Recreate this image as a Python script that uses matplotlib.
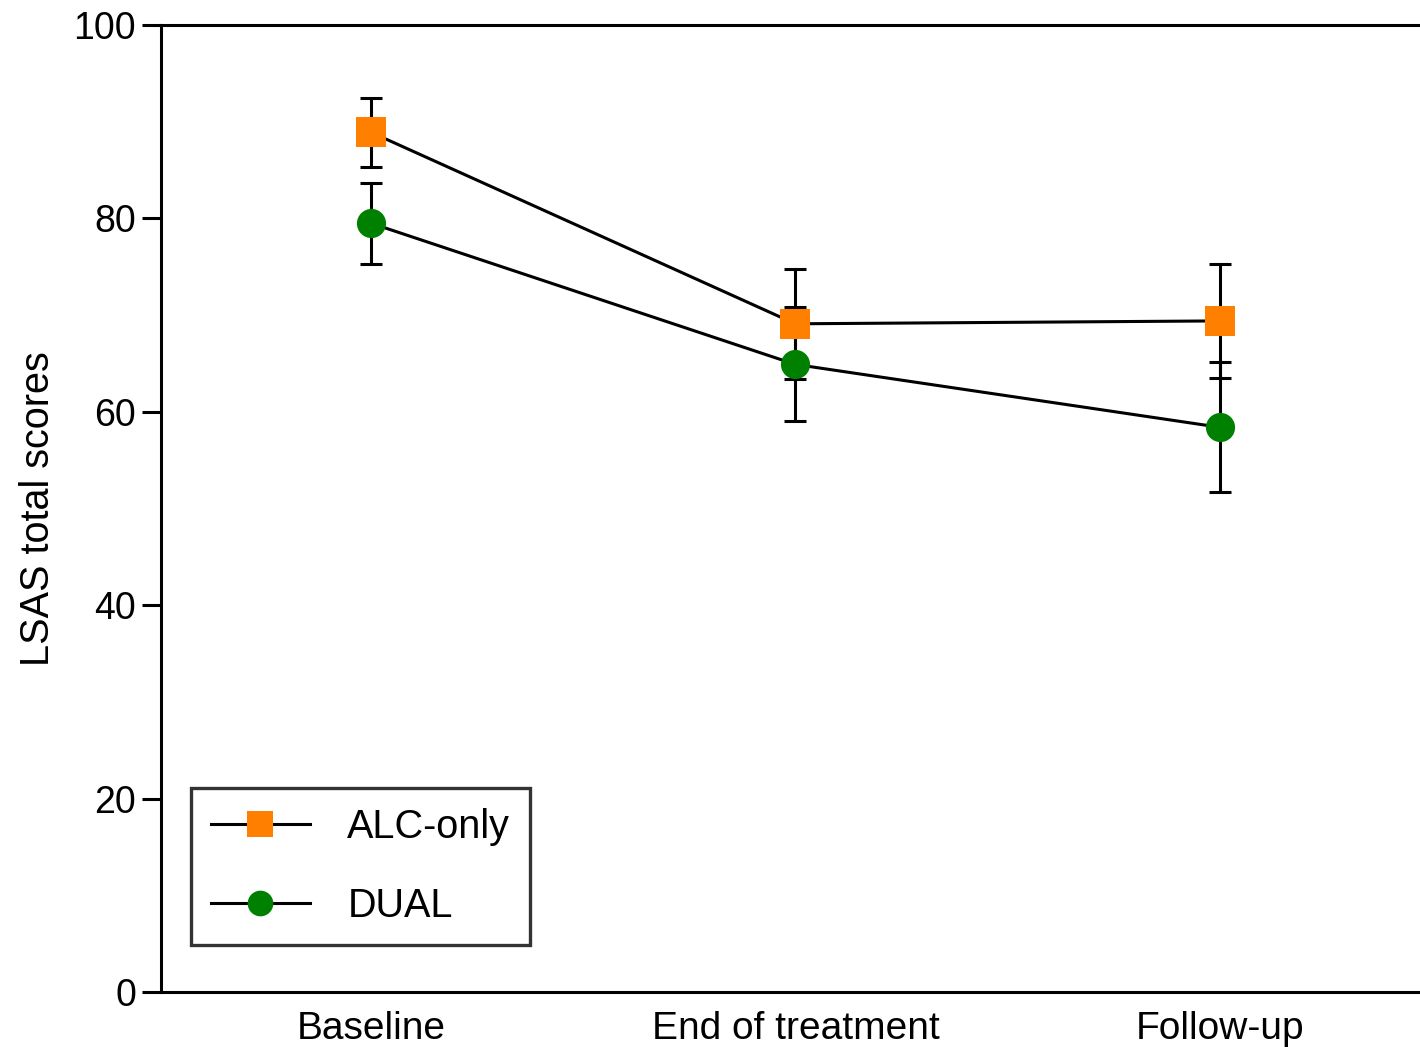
import numpy as np
import matplotlib.pyplot as plt
from matplotlib.lines import Line2D

plt.rcParams['font.family'] = ['Liberation Sans', 'DejaVu Sans']

timepoints = ['Baseline', 'End of treatment', 'Follow-up']
alc_mean = [88.9, 69.1, 69.4]
alc_err = [3.6, 5.7, 5.9]
dual_mean = [79.5, 64.9, 58.4]
dual_err = [4.2, 5.9, 6.7]

x = np.arange(len(timepoints))

fig = plt.figure(figsize=(14.2, 10.47), dpi=100)
ax = fig.add_axes([161 / 1420, 55 / 1047, 1273 / 1420, 967 / 1047])

series = [
    (alc_mean, alc_err, 's', 22, '#FF8000', 'ALC-only'),
    (dual_mean, dual_err, 'o', 21, '#008000', 'DUAL'),
]
handles = []
for mean, err, mk, ms, col, lab in series:
    ax.plot(x, mean, color='black', lw=2.2, zorder=2)
    ax.errorbar(x, mean, yerr=err, fmt='none', ecolor='black',
                elinewidth=2.2, capsize=8, capthick=2.2, zorder=2)
    ax.plot(x, mean, linestyle='none', marker=mk, markersize=ms,
            markerfacecolor=col, markeredgewidth=0, zorder=3)
    handles.append(Line2D([], [], color='black', lw=2.2, marker=mk,
                          markersize=ms * 0.88, markerfacecolor=col,
                          markeredgewidth=0, label=lab))

ax.set_xlim(-0.495, 2.505)
ax.set_ylim(0, 100)
ax.set_yticks([0, 20, 40, 60, 80, 100])
ax.set_xticks(x)
ax.set_xticklabels(timepoints, fontsize=28)
ax.set_ylabel('LSAS total scores', fontsize=28.5, labelpad=12)

ax.tick_params(axis='y', length=14, width=2.2, labelsize=27, pad=4)
ax.tick_params(axis='x', length=0, pad=14)
for side in ['left', 'bottom', 'top']:
    ax.spines[side].set_linewidth(2.2)
ax.spines['right'].set_visible(False)

leg = ax.legend(handles=handles, loc='lower left',
                bbox_to_anchor=(0.0236, 0.0486),
                fontsize=28.5, frameon=True, fancybox=False, edgecolor='black',
                handlelength=2.5, handletextpad=0.95, borderpad=0.5,
                labelspacing=1.05, borderaxespad=0)
leg.get_frame().set_linewidth(2.4)

fig.savefig('out.png', dpi=100)
